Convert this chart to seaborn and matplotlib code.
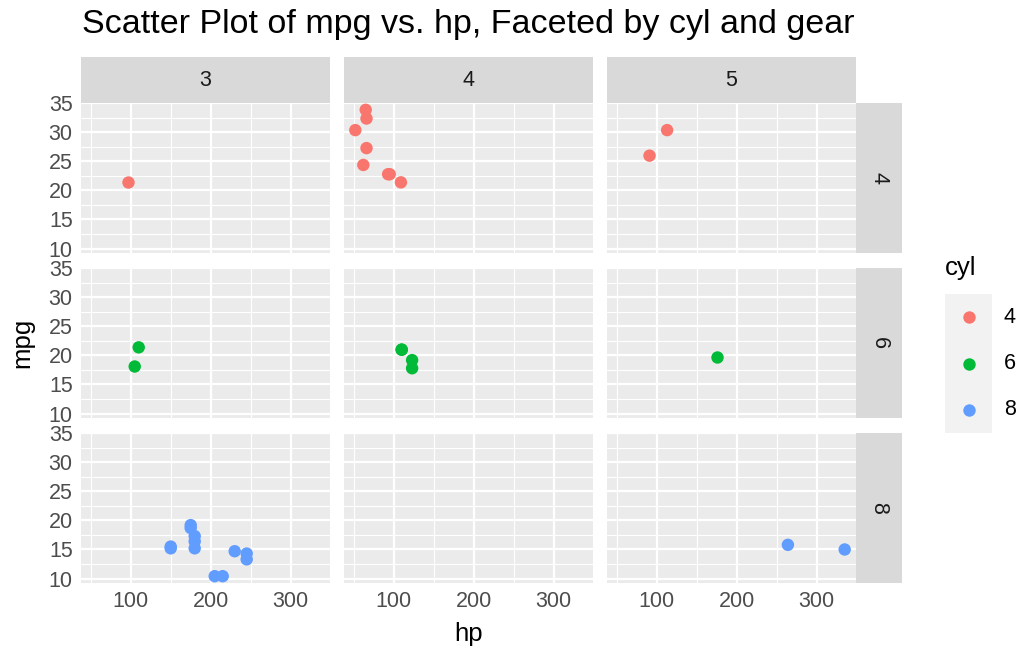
import numpy as np
import pandas as pd
import matplotlib
matplotlib.use("Agg")
import matplotlib.pyplot as plt
import seaborn as sns

# Motor Trend car road tests (hp, mpg, cylinders, forward gears)
hp = [110, 110, 93, 110, 175, 105, 245, 62, 95, 123, 123, 180, 180, 180, 205, 215,
      230, 66, 52, 65, 97, 150, 150, 245, 175, 66, 91, 113, 264, 175, 335, 109]
mpg = [21.0, 21.0, 22.8, 21.4, 18.7, 18.1, 14.3, 24.4, 22.8, 19.2, 17.8, 16.4, 17.3,
       15.2, 10.4, 10.4, 14.7, 32.4, 30.4, 33.9, 21.5, 15.5, 15.2, 13.3, 19.2, 27.3,
       26.0, 30.4, 15.8, 19.7, 15.0, 21.4]
cyl = [6, 6, 4, 6, 8, 6, 8, 4, 4, 6, 6, 8, 8, 8, 8, 8, 8, 4, 4, 4, 4, 8, 8, 8, 8, 4,
       4, 4, 8, 6, 8, 4]
gear = [4, 4, 4, 3, 3, 3, 3, 4, 4, 4, 4, 3, 3, 3, 3, 3, 3, 4, 4, 4, 3, 3, 3, 3, 3, 4,
        5, 5, 5, 5, 5, 4]

cyl_levels = [4, 6, 8]
gear_levels = [3, 4, 5]
palette = {4: "#F8766D", 6: "#00BA38", 8: "#619CFF"}
x_ticks = [100, 200, 300]
y_ticks = [10, 15, 20, 25, 30, 35]

df = pd.DataFrame({"hp": hp, "mpg": mpg, "cyl": cyl, "gear": gear})

sns.set_style("white")
plt.rcParams["font.family"] = ["Liberation Sans", "DejaVu Sans"]

W, H = 1023, 653
fig = plt.figure(figsize=(W / 100, H / 100), dpi=100)


def rect(x, y, w, h):
    return [x / W, 1 - (y + h) / H, w / W, h / H]


# data ranges with 5% expansion on each side
def expand(v):
    lo, hi = min(v), max(v)
    pad = (hi - lo) * 0.05
    return lo - pad, hi + pad


xlim = expand(hp)
ylim = expand(mpg)

col_x = [81, 344, 607]
row_y = [103, 268, 433]
pw, ph = 249, 150
strip_h, strip_w = 46, 46

tick_color = "#333333"
label_color = "#4D4D4D"
fs_tick = 15.5

for ri, c in enumerate(cyl_levels):
    for ci, g in enumerate(gear_levels):
        ax = fig.add_axes(rect(col_x[ci], row_y[ri], pw, ph))
        ax.set_facecolor("#EBEBEB")
        sub = df[(df.cyl == c) & (df.gear == g)]
        ax.set_xlim(*xlim)
        ax.set_ylim(*ylim)
        # minor and major grid
        for xv in [50, 150, 250, 350]:
            ax.axvline(xv, color="white", lw=0.8, zorder=0.5)
        for yv in [12.5, 17.5, 22.5, 27.5, 32.5]:
            ax.axhline(yv, color="white", lw=0.8, zorder=0.5)
        for xv in x_ticks:
            ax.axvline(xv, color="white", lw=1.6, zorder=0.6)
        for yv in y_ticks:
            ax.axhline(yv, color="white", lw=1.6, zorder=0.6)
        sns.scatterplot(data=sub, x="hp", y="mpg", hue="cyl", hue_order=cyl_levels,
                        palette=palette, s=80, linewidth=0, legend=False, ax=ax,
                        zorder=3)
        ax.set_xlabel("")
        ax.set_ylabel("")
        for sp in ax.spines.values():
            sp.set_visible(False)
        ax.set_xticks(x_ticks)
        ax.set_yticks(y_ticks)
        ax.tick_params(axis="both", length=4, width=1.4, color=tick_color,
                       labelsize=fs_tick, labelcolor=label_color, pad=2)
        if ci != 0:
            ax.tick_params(axis="y", left=False, labelleft=False)
        if ri != len(cyl_levels) - 1:
            ax.tick_params(axis="x", bottom=False, labelbottom=False)

        # column strips
        if ri == 0:
            sax = fig.add_axes(rect(col_x[ci], row_y[0] - strip_h, pw, strip_h))
            sax.set_facecolor("#D9D9D9")
            sax.set_xticks([])
            sax.set_yticks([])
            for sp in sax.spines.values():
                sp.set_visible(False)
            sax.text(0.5, 0.5, str(g), ha="center", va="center", fontsize=fs_tick,
                     color="#1A1A1A", transform=sax.transAxes)
        # row strips
        if ci == len(gear_levels) - 1:
            sax = fig.add_axes(rect(col_x[ci] + pw, row_y[ri], strip_w, ph))
            sax.set_facecolor("#D9D9D9")
            sax.set_xticks([])
            sax.set_yticks([])
            for sp in sax.spines.values():
                sp.set_visible(False)
            sax.text(0.5, 0.5, str(c), ha="center", va="center", fontsize=fs_tick,
                     color="#1A1A1A", rotation=-90, transform=sax.transAxes)

# titles
fig.text(82 / W, 1 - 25 / H, "Scatter Plot of mpg vs. hp, Faceted by cyl and gear",
         fontsize=24.5, ha="left", va="center", color="black")
fig.text((81 + 856) / 2 / W, 1 - 634 / H, "hp", fontsize=18.5, ha="center",
         va="center", color="black")
fig.text(22 / W, 1 - 343 / H, "mpg", fontsize=18.5, ha="center", va="center",
         rotation=90, color="black")

# legend
fig.text(945 / W, 1 - 268 / H, "cyl", fontsize=18.5, ha="left", va="center",
         color="black")
lax = fig.add_axes(rect(945, 294, 47, 139))
lax.set_facecolor("#F2F2F2")
lax.set_xlim(0, 1)
lax.set_ylim(len(cyl_levels), 0)
for i, c in enumerate(cyl_levels):
    lax.scatter([0.5], [i + 0.5], s=80, color=palette[c], linewidth=0)
    fig.text(1004 / W, 1 - (294 + 139 * (i + 0.5) / 3) / H, str(c), fontsize=fs_tick,
             ha="left", va="center", color="black")
lax.set_xticks([])
lax.set_yticks([])
for sp in lax.spines.values():
    sp.set_visible(False)

fig.savefig("out.png", dpi=100)
